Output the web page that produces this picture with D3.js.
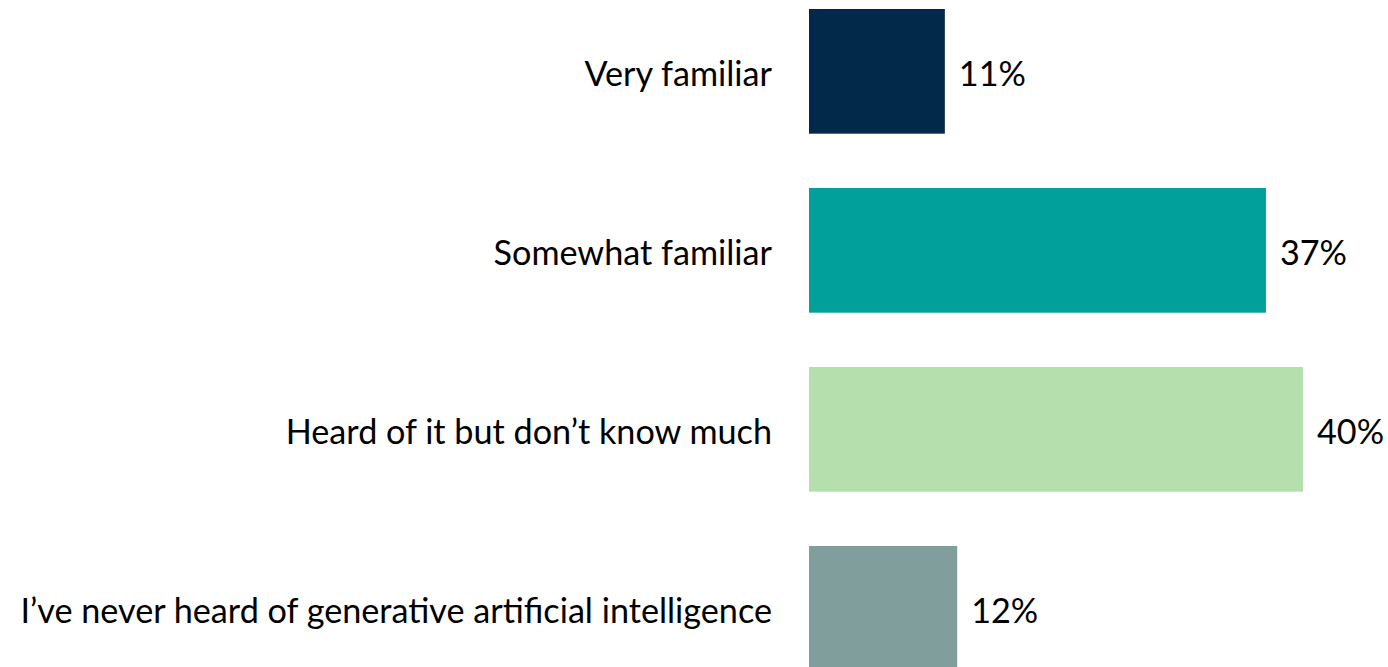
<!DOCTYPE html>
<html>
<head>
<meta charset="utf-8">
<script src="https://cdn.jsdelivr.net/npm/d3@7"></script>
<style>
  html, body { margin: 0; padding: 0; background: #ffffff; overflow: hidden; }
  svg text { font-family: Lato, "Open Sans", sans-serif; fill: #000; }
</style>
</head>
<body>
<svg id="chart" width="1388" height="667"></svg>
<script>
// Familiarity with generative artificial intelligence (% of respondents)
const categories = [
  "Very familiar",
  "Somewhat familiar",
  "Heard of it but don\u2019t know much",
  "I\u2019ve never heard of generative artificial intelligence"
];
const values = [11, 37, 40, 12];
const barColors = ["#03294A", "#02A09B", "#B5DFAD", "#7F9E9C"];

const svg = d3.select("#chart");

const x = d3.scaleLinear().domain([0, 40]).range([809, 1303]);
const y = d3.scaleBand().domain(categories).range([9, 670.7]).paddingInner(0.3034).paddingOuter(0);

const fontSize = 34.2;

svg.selectAll("rect.bar")
  .data(categories)
  .join("rect")
  .attr("class", "bar")
  .attr("x", x(0))
  .attr("y", d => y(d))
  .attr("width", (d, i) => x(values[i]) - x(0))
  .attr("height", y.bandwidth())
  .attr("fill", (d, i) => barColors[i]);

// value labels to the right of each bar
svg.selectAll("text.value")
  .data(categories)
  .join("text")
  .attr("class", "value")
  .attr("x", (d, i) => x(values[i]) + 14)
  .attr("y", d => y(d) + y.bandwidth() / 2 + 1)
  .attr("dominant-baseline", "central")
  .style("font-size", fontSize + "px")
  .text((d, i) => values[i] + "%");

// category labels, right-aligned against the bars
svg.selectAll("text.cat")
  .data(categories)
  .join("text")
  .attr("class", "cat")
  .attr("x", 772)
  .attr("y", d => y(d) + y.bandwidth() / 2 + 1)
  .attr("text-anchor", "end")
  .attr("dominant-baseline", "central")
  .style("font-size", fontSize + "px")
  .text(d => d);
</script>
</body>
</html>
